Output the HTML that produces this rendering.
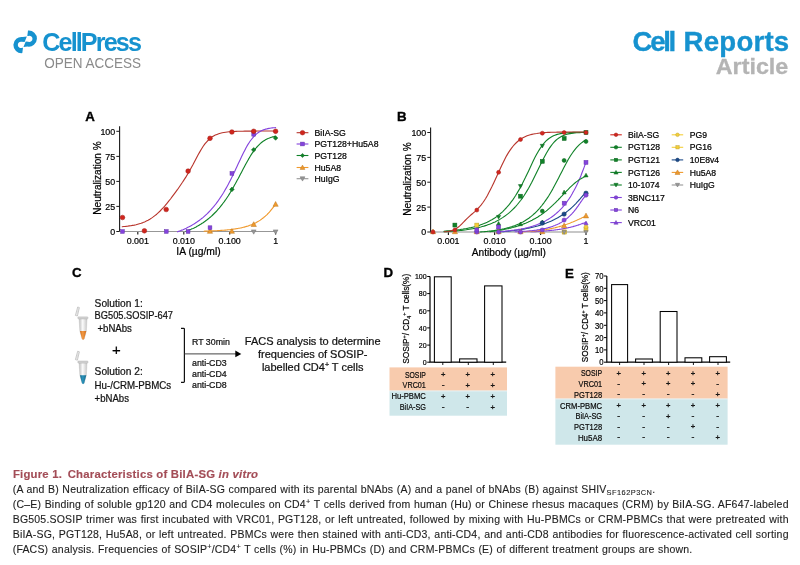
<!DOCTYPE html>
<html lang="en">
<head>
<meta charset="utf-8">
<title>Figure 1. Characteristics of BiIA-SG in vitro</title>
<style>
html,body{margin:0;padding:0;background:#fff;}
body{width:800px;height:565px;position:relative;overflow:hidden;font-family:"Liberation Sans", sans-serif;}
#fig{position:absolute;left:0;top:0;width:800px;height:565px;overflow:hidden;filter:blur(0.4px);}
svg{position:absolute;left:0;top:0;display:block;}
svg text{font-family:"Liberation Sans", sans-serif;}
svg text.k{stroke:#000;stroke-width:0.22px;}
svg text.kb{stroke:#000;stroke-width:0.35px;}
svg text.kp{stroke:#111;stroke-width:0.3px;}
.cap{position:absolute;left:12.7px;width:776px;color:#1e1e1e;-webkit-text-stroke:0.12px #1e1e1e;font-size:10.5px;line-height:14.7px;letter-spacing:0.2px;white-space:nowrap;text-align:justify;text-align-last:justify;}
.ttl{position:absolute;left:12.9px;top:466.8px;font-size:11.35px;line-height:15px;font-weight:bold;color:#a34d57;-webkit-text-stroke:0.15px #a34d57;white-space:nowrap;letter-spacing:0.22px;}
sub,sup{font-size:7.4px;line-height:0;letter-spacing:0.1px;}
sub{letter-spacing:0.48px;}
sup{vertical-align:3.6px;} sub{vertical-align:-2px;}
</style>
</head>
<body>
<div id="fig">
<svg width="800" height="565" viewBox="0 0 800 565">
<defs>
<linearGradient id="gb" x1="0" x2="1" y1="0" y2="0"><stop offset="0" stop-color="#bdbdbd"/><stop offset="0.45" stop-color="#fbfbfb"/><stop offset="1" stop-color="#c6c6c6"/></linearGradient>
<linearGradient id="go" x1="0" x2="1" y1="0" y2="0"><stop offset="0" stop-color="#d06f1c"/><stop offset="0.45" stop-color="#f39a45"/><stop offset="1" stop-color="#cf6d1a"/></linearGradient>
<linearGradient id="gl" x1="0" x2="1" y1="0" y2="0"><stop offset="0" stop-color="#146a8e"/><stop offset="0.45" stop-color="#2b93bb"/><stop offset="1" stop-color="#14688b"/></linearGradient>
</defs>
<path d="M28.0 30.5 A8.1 8.1 0 1 1 27.5 46.55 L23.45 47.0 L25.7 41.5 L28.4 41.75 A3.1 3.1 0 1 0 28.2 35.95 L27.3 35.9Z" fill="#1692cf"/>
<path d="M28.0 30.5 A8.1 8.1 0 1 1 27.5 46.55 L23.45 47.0 L25.7 41.5 L28.4 41.75 A3.1 3.1 0 1 0 28.2 35.95 L27.3 35.9Z" fill="#1692cf" transform="rotate(180 25.15 41.8)"/>
<text x="42.3" y="50.8" font-size="25.2" font-weight="bold" fill="#1692cf" textLength="99.6" lengthAdjust="spacing">CellPress</text>
<text x="44.2" y="68.2" font-size="14" fill="#8a8a8a" textLength="96.8" lengthAdjust="spacingAndGlyphs">OPEN ACCESS</text>
<text y="50.8" font-size="27.6" font-weight="bold" fill="#1692cf" stroke="#1692cf" stroke-width="0.35"><tspan x="632.6" textLength="43.6" lengthAdjust="spacing">Cell</tspan> <tspan x="683.6" textLength="105.6" lengthAdjust="spacing">Reports</tspan></text>
<text x="715.8" y="74.0" font-size="21.4" font-weight="bold" fill="#b4b4b4" stroke="#b4b4b4" stroke-width="0.3" textLength="72.5" lengthAdjust="spacingAndGlyphs">Article</text>
<path d="M119.6 126.3 V231.5 H276.2" fill="none" stroke="#1a1a1a" stroke-width="1.1"/>
<path d="M116.3 231.5 H119.6" stroke="#1a1a1a" stroke-width="1"/>
<text transform="translate(115.19999999999999 234.9) scale(0.915 1)" font-size="9.7" text-anchor="end" font-weight="normal" fill="#000" class="k">0</text>
<path d="M116.3 206.4 H119.6" stroke="#1a1a1a" stroke-width="1"/>
<text transform="translate(115.19999999999999 209.8) scale(0.915 1)" font-size="9.7" text-anchor="end" font-weight="normal" fill="#000" class="k">25</text>
<path d="M116.3 181.4 H119.6" stroke="#1a1a1a" stroke-width="1"/>
<text transform="translate(115.19999999999999 184.8) scale(0.915 1)" font-size="9.7" text-anchor="end" font-weight="normal" fill="#000" class="k">50</text>
<path d="M116.3 156.4 H119.6" stroke="#1a1a1a" stroke-width="1"/>
<text transform="translate(115.19999999999999 159.8) scale(0.915 1)" font-size="9.7" text-anchor="end" font-weight="normal" fill="#000" class="k">75</text>
<path d="M116.3 131.3 H119.6" stroke="#1a1a1a" stroke-width="1"/>
<text transform="translate(115.19999999999999 134.7) scale(0.915 1)" font-size="9.7" text-anchor="end" font-weight="normal" fill="#000" class="k">100</text>
<path d="M137.8 231.5 V234.6" stroke="#1a1a1a" stroke-width="1.15"/>
<text transform="translate(137.8 243.9) scale(0.915 1)" font-size="9.7" text-anchor="middle" font-weight="normal" fill="#000" class="k">0.001</text>
<path d="M183.8 231.5 V234.6" stroke="#1a1a1a" stroke-width="1.15"/>
<text transform="translate(183.8 243.9) scale(0.915 1)" font-size="9.7" text-anchor="middle" font-weight="normal" fill="#000" class="k">0.010</text>
<path d="M229.7 231.5 V234.6" stroke="#1a1a1a" stroke-width="1.15"/>
<text transform="translate(229.7 243.9) scale(0.915 1)" font-size="9.7" text-anchor="middle" font-weight="normal" fill="#000" class="k">0.100</text>
<path d="M275.6 231.5 V234.6" stroke="#1a1a1a" stroke-width="1.15"/>
<text transform="translate(275.6 243.9) scale(0.915 1)" font-size="9.7" text-anchor="middle" font-weight="normal" fill="#000" class="k">1</text>
<text x="198.5" y="254.6" font-size="10.3" text-anchor="middle" font-weight="normal" fill="#000" class="k">IA (µg/ml)</text>
<text transform="translate(100.8 178) rotate(-90)" font-size="10.6" text-anchor="middle" fill="#000" textLength="73.5" lengthAdjust="spacingAndGlyphs" class="k">Neutralization %</text>
<path d="M119.6 231.5 H275.6" stroke="#979797" stroke-width="1.1"/>
<path d="M122.2 226.7 L123.9 226.5 L125.6 226.4 L127.4 226.2 L129.1 225.9 L130.8 225.7 L132.5 225.4 L134.3 225.1 L136.0 224.7 L137.7 224.2 L139.4 223.7 L141.2 223.2 L142.9 222.6 L144.6 221.9 L146.3 221.1 L148.1 220.2 L149.8 219.2 L151.5 218.1 L153.2 216.9 L154.9 215.6 L156.7 214.2 L158.4 212.6 L160.1 211.0 L161.8 209.2 L163.6 207.3 L165.3 205.4 L167.0 203.3 L168.7 201.2 L170.5 199.0 L172.2 196.7 L173.9 194.4 L175.6 192.1 L177.4 189.7 L179.1 187.3 L180.8 184.8 L182.5 182.3 L184.2 179.6 L186.0 176.9 L187.7 174.0 L189.4 171.1 L191.1 168.0 L192.9 164.8 L194.6 161.5 L196.3 158.2 L198.0 155.0 L199.8 151.9 L201.5 149.0 L203.2 146.3 L204.9 143.9 L206.7 141.8 L208.4 140.0 L210.1 138.4 L211.8 137.1 L213.6 136.0 L215.3 135.1 L217.0 134.4 L218.7 133.7 L220.4 133.2 L222.2 132.8 L223.9 132.5 L225.6 132.2 L227.3 132.0 L229.1 131.8 L230.8 131.7 L232.5 131.6 L234.2 131.5 L236.0 131.4 L237.7 131.3 L239.4 131.3 L241.1 131.2 L242.9 131.2 L244.6 131.1 L246.3 131.1 L248.0 131.1 L249.7 131.1 L251.5 131.1 L253.2 131.1 L254.9 131.0 L256.6 131.0 L258.4 131.0 L260.1 131.0 L261.8 131.0 L263.5 131.0 L265.3 131.0 L267.0 131.0 L268.7 131.0 L270.4 131.0 L272.2 131.0 L273.9 131.0 L275.6 131.0" fill="none" stroke="#b8352c" stroke-width="1.12" stroke-linejoin="round" stroke-linecap="round"/>
<path d="M177.5 231.8 L178.6 231.4 L179.7 231.0 L180.8 230.6 L181.9 230.1 L183.0 229.7 L184.1 229.2 L185.2 228.7 L186.3 228.2 L187.4 227.6 L188.5 227.1 L189.6 226.5 L190.7 225.9 L191.8 225.3 L192.9 224.6 L194.0 224.0 L195.1 223.3 L196.2 222.5 L197.3 221.8 L198.4 221.0 L199.5 220.2 L200.6 219.4 L201.7 218.5 L202.9 217.6 L204.0 216.6 L205.1 215.6 L206.2 214.6 L207.3 213.6 L208.4 212.5 L209.5 211.3 L210.6 210.2 L211.7 208.9 L212.8 207.7 L213.9 206.4 L215.0 205.0 L216.1 203.6 L217.2 202.1 L218.3 200.6 L219.4 199.0 L220.5 197.4 L221.6 195.7 L222.7 194.0 L223.8 192.2 L224.9 190.3 L226.0 188.4 L227.1 186.4 L228.2 184.4 L229.3 182.3 L230.4 180.2 L231.5 178.0 L232.6 175.8 L233.7 173.5 L234.8 171.2 L235.9 168.8 L237.0 166.5 L238.1 164.1 L239.2 161.8 L240.3 159.4 L241.4 157.1 L242.5 154.8 L243.6 152.6 L244.7 150.4 L245.8 148.3 L246.9 146.3 L248.0 144.4 L249.1 142.7 L250.2 141.0 L251.4 139.5 L252.5 138.1 L253.6 136.8 L254.7 135.6 L255.8 134.6 L256.9 133.6 L258.0 132.8 L259.1 132.0 L260.2 131.4 L261.3 130.8 L262.4 130.3 L263.5 129.9 L264.6 129.5 L265.7 129.1 L266.8 128.9 L267.9 128.6 L269.0 128.4 L270.1 128.2 L271.2 128.0 L272.3 127.9 L273.4 127.8 L274.5 127.7 L275.6 127.6" fill="none" stroke="#8443dd" stroke-width="1.12" stroke-linejoin="round" stroke-linecap="round"/>
<path d="M186.0 231.3 L187.0 230.9 L188.0 230.5 L189.0 230.1 L190.0 229.7 L191.0 229.3 L192.0 228.8 L193.0 228.4 L194.1 227.9 L195.1 227.4 L196.1 226.9 L197.1 226.3 L198.1 225.8 L199.1 225.2 L200.1 224.6 L201.1 224.0 L202.1 223.3 L203.1 222.7 L204.1 222.0 L205.1 221.3 L206.1 220.5 L207.1 219.8 L208.1 219.0 L209.2 218.1 L210.2 217.3 L211.2 216.4 L212.2 215.5 L213.2 214.5 L214.2 213.5 L215.2 212.5 L216.2 211.5 L217.2 210.4 L218.2 209.2 L219.2 208.1 L220.2 206.9 L221.2 205.6 L222.2 204.3 L223.2 203.0 L224.3 201.6 L225.3 200.2 L226.3 198.7 L227.3 197.2 L228.3 195.7 L229.3 194.1 L230.3 192.5 L231.3 190.8 L232.3 189.1 L233.3 187.4 L234.3 185.6 L235.3 183.8 L236.3 181.9 L237.3 180.1 L238.4 178.2 L239.4 176.3 L240.4 174.3 L241.4 172.4 L242.4 170.5 L243.4 168.6 L244.4 166.7 L245.4 164.8 L246.4 163.0 L247.4 161.2 L248.4 159.4 L249.4 157.7 L250.4 156.0 L251.4 154.4 L252.4 152.9 L253.5 151.4 L254.5 150.0 L255.5 148.7 L256.5 147.5 L257.5 146.4 L258.5 145.3 L259.5 144.3 L260.5 143.4 L261.5 142.5 L262.5 141.7 L263.5 141.0 L264.5 140.4 L265.5 139.8 L266.5 139.2 L267.5 138.7 L268.6 138.3 L269.6 137.9 L270.6 137.5 L271.6 137.2 L272.6 136.9 L273.6 136.7 L274.6 136.4 L275.6 136.2" fill="none" stroke="#108228" stroke-width="1.12" stroke-linejoin="round" stroke-linecap="round"/>
<path d="M204.0 231.2 L204.8 231.1 L205.6 231.1 L206.4 231.1 L207.2 231.1 L208.0 231.1 L208.8 231.0 L209.6 231.0 L210.4 231.0 L211.2 230.9 L212.0 230.9 L212.8 230.9 L213.7 230.8 L214.5 230.8 L215.3 230.8 L216.1 230.7 L216.9 230.7 L217.7 230.6 L218.5 230.6 L219.3 230.5 L220.1 230.5 L220.9 230.4 L221.7 230.4 L222.5 230.3 L223.3 230.3 L224.1 230.2 L224.9 230.1 L225.7 230.1 L226.5 230.0 L227.3 229.9 L228.1 229.8 L228.9 229.7 L229.7 229.7 L230.5 229.6 L231.4 229.5 L232.2 229.4 L233.0 229.3 L233.8 229.1 L234.6 229.0 L235.4 228.9 L236.2 228.8 L237.0 228.6 L237.8 228.5 L238.6 228.3 L239.4 228.2 L240.2 228.0 L241.0 227.9 L241.8 227.7 L242.6 227.5 L243.4 227.3 L244.2 227.1 L245.0 226.9 L245.8 226.6 L246.6 226.4 L247.4 226.2 L248.2 225.9 L249.1 225.6 L249.9 225.3 L250.7 225.0 L251.5 224.7 L252.3 224.4 L253.1 224.0 L253.9 223.7 L254.7 223.3 L255.5 222.9 L256.3 222.5 L257.1 222.0 L257.9 221.6 L258.7 221.1 L259.5 220.6 L260.3 220.1 L261.1 219.5 L261.9 218.9 L262.7 218.3 L263.5 217.7 L264.3 217.0 L265.1 216.3 L265.9 215.6 L266.8 214.8 L267.6 214.0 L268.4 213.2 L269.2 212.3 L270.0 211.4 L270.8 210.4 L271.6 209.4 L272.4 208.4 L273.2 207.3 L274.0 206.3 L274.8 205.3 L275.6 204.4" fill="none" stroke="#f09a2e" stroke-width="1.12" stroke-linejoin="round" stroke-linecap="round"/>
<path d="M253.7 234.2 L256.1 229.9 L251.3 229.9Z" fill="#979797" stroke="#757575" stroke-width="0.5"/>
<path d="M275.6 234.2 L278.0 229.9 L273.2 229.9Z" fill="#979797" stroke="#757575" stroke-width="0.5"/>
<path d="M210.0 228.6 L212.6 233.3 L207.3 233.3Z" fill="#f09a2e" stroke="#bb7823" stroke-width="0.5"/>
<path d="M231.9 228.6 L234.5 233.3 L229.2 233.3Z" fill="#f09a2e" stroke="#bb7823" stroke-width="0.5"/>
<path d="M253.7 221.7 L256.4 226.5 L251.1 226.5Z" fill="#f09a2e" stroke="#bb7823" stroke-width="0.5"/>
<path d="M275.6 201.5 L278.2 206.3 L273.0 206.3Z" fill="#f09a2e" stroke="#bb7823" stroke-width="0.5"/>
<path d="M231.9 187.1 L234.2 189.4 L231.9 191.7 L229.6 189.4Z" fill="#108228" stroke="#0c651f" stroke-width="0.5"/>
<path d="M253.7 147.5 L256.0 149.8 L253.7 152.1 L251.4 149.8Z" fill="#108228" stroke="#0c651f" stroke-width="0.5"/>
<path d="M275.6 135.7 L277.9 138.0 L275.6 140.3 L273.3 138.0Z" fill="#108228" stroke="#0c651f" stroke-width="0.5"/>
<rect x="120.6" y="229.6" width="3.78" height="3.78" fill="#8443dd" stroke="#6634ac" stroke-width="0.5"/>
<rect x="164.4" y="229.6" width="3.78" height="3.78" fill="#8443dd" stroke="#6634ac" stroke-width="0.5"/>
<rect x="186.2" y="229.6" width="3.78" height="3.78" fill="#8443dd" stroke="#6634ac" stroke-width="0.5"/>
<rect x="208.1" y="225.8" width="3.78" height="3.78" fill="#8443dd" stroke="#6634ac" stroke-width="0.5"/>
<rect x="230.0" y="171.5" width="3.78" height="3.78" fill="#8443dd" stroke="#6634ac" stroke-width="0.5"/>
<rect x="251.8" y="132.4" width="3.78" height="3.78" fill="#8443dd" stroke="#6634ac" stroke-width="0.5"/>
<circle cx="275.6" cy="131.3" r="2.35" fill="#d0251d" stroke="#a21c16" stroke-width="0.5"/>
<circle cx="253.7" cy="131.3" r="2.35" fill="#d0251d" stroke="#a21c16" stroke-width="0.5"/>
<circle cx="231.9" cy="132.0" r="2.35" fill="#d0251d" stroke="#a21c16" stroke-width="0.5"/>
<circle cx="210.0" cy="138.3" r="2.35" fill="#d0251d" stroke="#a21c16" stroke-width="0.5"/>
<circle cx="188.1" cy="171.1" r="2.35" fill="#d0251d" stroke="#a21c16" stroke-width="0.5"/>
<circle cx="166.2" cy="209.5" r="2.35" fill="#d0251d" stroke="#a21c16" stroke-width="0.5"/>
<circle cx="144.4" cy="230.8" r="2.35" fill="#d0251d" stroke="#a21c16" stroke-width="0.5"/>
<circle cx="122.5" cy="217.5" r="2.35" fill="#d0251d" stroke="#a21c16" stroke-width="0.5"/>
<path d="M296.6 132.7 H308.4" stroke="#b8352c" stroke-width="1.1"/>
<circle cx="302.5" cy="132.7" r="2.30" fill="#d0251d" stroke="#a21c16" stroke-width="0.5"/>
<text x="314.5" y="135.8" font-size="8.7" text-anchor="start" font-weight="normal" fill="#000" class="k">BiIA-SG</text>
<path d="M296.6 144.0 H308.4" stroke="#8443dd" stroke-width="1.1"/>
<rect x="300.6" y="142.1" width="3.78" height="3.78" fill="#8443dd" stroke="#6634ac" stroke-width="0.5"/>
<text x="314.5" y="147.1" font-size="8.7" text-anchor="start" font-weight="normal" fill="#000" class="k">PGT128+Hu5A8</text>
<path d="M296.6 155.5 H308.4" stroke="#108228" stroke-width="1.1"/>
<path d="M302.5 153.4 L304.6 155.5 L302.5 157.6 L300.4 155.5Z" fill="#108228" stroke="#0c651f" stroke-width="0.5"/>
<text x="314.5" y="158.6" font-size="8.7" text-anchor="start" font-weight="normal" fill="#000" class="k">PGT128</text>
<path d="M296.6 167.5 H308.4" stroke="#f09a2e" stroke-width="1.1"/>
<path d="M302.5 165.1 L304.9 169.4 L300.1 169.4Z" fill="#f09a2e" stroke="#bb7823" stroke-width="0.5"/>
<text x="314.5" y="170.6" font-size="8.7" text-anchor="start" font-weight="normal" fill="#000" class="k">Hu5A8</text>
<path d="M296.6 178.7 H308.4" stroke="#979797" stroke-width="1.1"/>
<path d="M302.5 181.1 L304.9 176.8 L300.1 176.8Z" fill="#979797" stroke="#757575" stroke-width="0.5"/>
<text x="314.5" y="181.8" font-size="8.7" text-anchor="start" font-weight="normal" fill="#000" class="k">HuIgG</text>
<text x="85.2" y="121.1" font-size="13.3" text-anchor="start" font-weight="bold" fill="#000" class="kb">A</text>
<path d="M430.6 127.5 V232.5" fill="none" stroke="#1a1a1a" stroke-width="1.1"/>
<path d="M427.3 232.0 H430.6" stroke="#1a1a1a" stroke-width="1"/>
<text transform="translate(426.20000000000005 235.4) scale(0.915 1)" font-size="9.7" text-anchor="end" font-weight="normal" fill="#000" class="k">0</text>
<path d="M427.3 207.1 H430.6" stroke="#1a1a1a" stroke-width="1"/>
<text transform="translate(426.20000000000005 210.5) scale(0.915 1)" font-size="9.7" text-anchor="end" font-weight="normal" fill="#000" class="k">25</text>
<path d="M427.3 182.2 H430.6" stroke="#1a1a1a" stroke-width="1"/>
<text transform="translate(426.20000000000005 185.7) scale(0.915 1)" font-size="9.7" text-anchor="end" font-weight="normal" fill="#000" class="k">50</text>
<path d="M427.3 157.4 H430.6" stroke="#1a1a1a" stroke-width="1"/>
<text transform="translate(426.20000000000005 160.8) scale(0.915 1)" font-size="9.7" text-anchor="end" font-weight="normal" fill="#000" class="k">75</text>
<path d="M427.3 132.5 H430.6" stroke="#1a1a1a" stroke-width="1"/>
<text transform="translate(426.20000000000005 135.9) scale(0.915 1)" font-size="9.7" text-anchor="end" font-weight="normal" fill="#000" class="k">100</text>
<path d="M448.4 232.0 V235.1" stroke="#1a1a1a" stroke-width="1.15"/>
<text transform="translate(448.4 244.4) scale(0.915 1)" font-size="9.7" text-anchor="middle" font-weight="normal" fill="#000" class="k">0.001</text>
<path d="M494.6 232.0 V235.1" stroke="#1a1a1a" stroke-width="1.15"/>
<text transform="translate(494.6 244.4) scale(0.915 1)" font-size="9.7" text-anchor="middle" font-weight="normal" fill="#000" class="k">0.010</text>
<path d="M540.6 232.0 V235.1" stroke="#1a1a1a" stroke-width="1.15"/>
<text transform="translate(540.6 244.4) scale(0.915 1)" font-size="9.7" text-anchor="middle" font-weight="normal" fill="#000" class="k">0.100</text>
<path d="M586.0 232.0 V235.1" stroke="#1a1a1a" stroke-width="1.15"/>
<text transform="translate(586.0 244.4) scale(0.915 1)" font-size="9.7" text-anchor="middle" font-weight="normal" fill="#000" class="k">1</text>
<text x="508.8" y="255.7" font-size="10.15" text-anchor="middle" font-weight="normal" fill="#000" class="k">Antibody (µg/ml)</text>
<text transform="translate(411.3 179) rotate(-90)" font-size="10.6" text-anchor="middle" fill="#000" textLength="73.5" lengthAdjust="spacingAndGlyphs" class="k">Neutralization %</text>
<path d="M430.6 232.0 H586.6" stroke="#8f8f8f" stroke-width="1.2"/>
<path d="M531.0 231.8 L531.6 231.8 L532.2 231.7 L532.9 231.7 L533.5 231.7 L534.1 231.7 L534.7 231.6 L535.3 231.6 L535.9 231.6 L536.6 231.5 L537.2 231.5 L537.8 231.5 L538.4 231.4 L539.0 231.4 L539.7 231.3 L540.3 231.3 L540.9 231.3 L541.5 231.2 L542.1 231.2 L542.7 231.1 L543.4 231.1 L544.0 231.0 L544.6 231.0 L545.2 231.0 L545.8 230.9 L546.4 230.9 L547.1 230.8 L547.7 230.7 L548.3 230.7 L548.9 230.6 L549.5 230.6 L550.2 230.5 L550.8 230.4 L551.4 230.4 L552.0 230.3 L552.6 230.2 L553.2 230.2 L553.9 230.1 L554.5 230.0 L555.1 230.0 L555.7 229.9 L556.3 229.8 L557.0 229.7 L557.6 229.6 L558.2 229.5 L558.8 229.5 L559.4 229.4 L560.0 229.3 L560.7 229.2 L561.3 229.1 L561.9 229.0 L562.5 228.9 L563.1 228.8 L563.8 228.6 L564.4 228.5 L565.0 228.4 L565.6 228.3 L566.2 228.2 L566.8 228.0 L567.5 227.9 L568.1 227.8 L568.7 227.6 L569.3 227.5 L569.9 227.4 L570.6 227.2 L571.2 227.0 L571.8 226.9 L572.4 226.7 L573.0 226.6 L573.6 226.4 L574.3 226.2 L574.9 226.0 L575.5 225.9 L576.1 225.7 L576.7 225.5 L577.3 225.3 L578.0 225.1 L578.6 224.9 L579.2 224.7 L579.8 224.5 L580.4 224.2 L581.1 224.0 L581.7 223.8 L582.3 223.6 L582.9 223.4 L583.5 223.2 L584.1 223.0 L584.8 222.8 L585.4 222.7 L586.0 222.5" fill="none" stroke="#8443dd" stroke-width="1.12" stroke-linejoin="round" stroke-linecap="round"/>
<path d="M520.0 231.8 L520.7 231.8 L521.5 231.7 L522.2 231.7 L523.0 231.7 L523.7 231.6 L524.4 231.6 L525.2 231.6 L525.9 231.5 L526.7 231.5 L527.4 231.5 L528.2 231.4 L528.9 231.4 L529.6 231.3 L530.4 231.3 L531.1 231.2 L531.9 231.2 L532.6 231.1 L533.3 231.1 L534.1 231.0 L534.8 230.9 L535.6 230.9 L536.3 230.8 L537.1 230.7 L537.8 230.7 L538.5 230.6 L539.3 230.5 L540.0 230.4 L540.8 230.3 L541.5 230.2 L542.2 230.1 L543.0 230.0 L543.7 229.9 L544.5 229.8 L545.2 229.7 L546.0 229.6 L546.7 229.4 L547.4 229.3 L548.2 229.2 L548.9 229.1 L549.7 228.9 L550.4 228.8 L551.1 228.6 L551.9 228.5 L552.6 228.3 L553.4 228.1 L554.1 228.0 L554.9 227.8 L555.6 227.6 L556.3 227.4 L557.1 227.2 L557.8 227.0 L558.6 226.8 L559.3 226.6 L560.0 226.4 L560.8 226.2 L561.5 226.0 L562.3 225.8 L563.0 225.5 L563.8 225.3 L564.5 225.0 L565.2 224.8 L566.0 224.5 L566.7 224.3 L567.5 224.0 L568.2 223.7 L568.9 223.5 L569.7 223.2 L570.4 222.9 L571.2 222.6 L571.9 222.3 L572.7 222.0 L573.4 221.7 L574.1 221.4 L574.9 221.1 L575.6 220.7 L576.4 220.4 L577.1 220.1 L577.8 219.7 L578.6 219.4 L579.3 219.1 L580.1 218.7 L580.8 218.4 L581.6 218.0 L582.3 217.6 L583.0 217.3 L583.8 216.9 L584.5 216.5 L585.3 216.2 L586.0 215.8" fill="none" stroke="#f09a2e" stroke-width="1.12" stroke-linejoin="round" stroke-linecap="round"/>
<path d="M515.0 231.8 L515.8 231.8 L516.6 231.7 L517.4 231.7 L518.2 231.7 L519.0 231.6 L519.8 231.6 L520.6 231.5 L521.4 231.5 L522.2 231.4 L523.0 231.4 L523.8 231.3 L524.6 231.3 L525.4 231.2 L526.2 231.2 L527.0 231.1 L527.8 231.0 L528.6 231.0 L529.4 230.9 L530.2 230.8 L531.0 230.7 L531.8 230.7 L532.6 230.6 L533.3 230.5 L534.1 230.4 L534.9 230.3 L535.7 230.2 L536.5 230.1 L537.3 229.9 L538.1 229.8 L538.9 229.7 L539.7 229.6 L540.5 229.4 L541.3 229.3 L542.1 229.1 L542.9 229.0 L543.7 228.8 L544.5 228.6 L545.3 228.5 L546.1 228.3 L546.9 228.1 L547.7 227.9 L548.5 227.6 L549.3 227.4 L550.1 227.2 L550.9 226.9 L551.7 226.7 L552.5 226.4 L553.3 226.1 L554.1 225.8 L554.9 225.5 L555.7 225.1 L556.5 224.8 L557.3 224.4 L558.1 224.1 L558.9 223.7 L559.7 223.2 L560.5 222.8 L561.3 222.4 L562.1 221.9 L562.9 221.4 L563.7 220.9 L564.5 220.3 L565.3 219.7 L566.1 219.1 L566.9 218.5 L567.7 217.8 L568.4 217.2 L569.2 216.4 L570.0 215.7 L570.8 214.9 L571.6 214.1 L572.4 213.2 L573.2 212.3 L574.0 211.4 L574.8 210.4 L575.6 209.4 L576.4 208.3 L577.2 207.2 L578.0 206.1 L578.8 204.9 L579.6 203.8 L580.4 202.6 L581.2 201.4 L582.0 200.3 L582.8 199.1 L583.6 198.1 L584.4 197.2 L585.2 196.3 L586.0 195.6" fill="none" stroke="#8443dd" stroke-width="1.12" stroke-linejoin="round" stroke-linecap="round"/>
<path d="M498.0 231.8 L499.0 231.8 L500.0 231.8 L501.0 231.8 L502.0 231.8 L502.9 231.7 L503.9 231.6 L504.9 231.5 L505.9 231.4 L506.9 231.3 L507.9 231.2 L508.9 231.1 L509.9 231.0 L510.9 230.9 L511.8 230.8 L512.8 230.7 L513.8 230.6 L514.8 230.4 L515.8 230.3 L516.8 230.2 L517.8 230.0 L518.8 229.9 L519.8 229.7 L520.7 229.6 L521.7 229.4 L522.7 229.3 L523.7 229.1 L524.7 228.9 L525.7 228.7 L526.7 228.5 L527.7 228.3 L528.7 228.1 L529.6 227.9 L530.6 227.7 L531.6 227.5 L532.6 227.3 L533.6 227.0 L534.6 226.8 L535.6 226.5 L536.6 226.2 L537.6 226.0 L538.5 225.7 L539.5 225.4 L540.5 225.1 L541.5 224.8 L542.5 224.4 L543.5 224.1 L544.5 223.8 L545.5 223.4 L546.4 223.0 L547.4 222.6 L548.4 222.2 L549.4 221.8 L550.4 221.4 L551.4 221.0 L552.4 220.5 L553.4 220.0 L554.4 219.5 L555.3 219.0 L556.3 218.5 L557.3 218.0 L558.3 217.4 L559.3 216.8 L560.3 216.2 L561.3 215.6 L562.3 215.0 L563.3 214.3 L564.2 213.6 L565.2 212.9 L566.2 212.2 L567.2 211.4 L568.2 210.6 L569.2 209.8 L570.2 209.0 L571.2 208.1 L572.2 207.2 L573.1 206.3 L574.1 205.3 L575.1 204.3 L576.1 203.3 L577.1 202.2 L578.1 201.1 L579.1 200.0 L580.1 198.9 L581.1 197.7 L582.0 196.6 L583.0 195.5 L584.0 194.5 L585.0 193.7 L586.0 193.0" fill="none" stroke="#1b4a88" stroke-width="1.12" stroke-linejoin="round" stroke-linecap="round"/>
<path d="M498.0 231.7 L499.0 231.7 L500.0 231.6 L501.0 231.5 L502.0 231.4 L502.9 231.4 L503.9 231.3 L504.9 231.2 L505.9 231.1 L506.9 231.0 L507.9 230.9 L508.9 230.8 L509.9 230.7 L510.9 230.5 L511.8 230.4 L512.8 230.3 L513.8 230.2 L514.8 230.0 L515.8 229.9 L516.8 229.7 L517.8 229.6 L518.8 229.4 L519.8 229.2 L520.7 229.1 L521.7 228.9 L522.7 228.7 L523.7 228.5 L524.7 228.3 L525.7 228.0 L526.7 227.8 L527.7 227.6 L528.7 227.3 L529.6 227.1 L530.6 226.8 L531.6 226.5 L532.6 226.2 L533.6 225.9 L534.6 225.6 L535.6 225.2 L536.6 224.9 L537.6 224.5 L538.5 224.1 L539.5 223.7 L540.5 223.3 L541.5 222.8 L542.5 222.4 L543.5 221.9 L544.5 221.4 L545.5 220.9 L546.4 220.3 L547.4 219.8 L548.4 219.2 L549.4 218.6 L550.4 217.9 L551.4 217.2 L552.4 216.5 L553.4 215.8 L554.4 215.0 L555.3 214.2 L556.3 213.4 L557.3 212.5 L558.3 211.6 L559.3 210.7 L560.3 209.7 L561.3 208.7 L562.3 207.6 L563.3 206.4 L564.2 205.3 L565.2 204.0 L566.2 202.8 L567.2 201.4 L568.2 200.0 L569.2 198.6 L570.2 197.1 L571.2 195.5 L572.2 193.8 L573.1 192.1 L574.1 190.3 L575.1 188.4 L576.1 186.4 L577.1 184.4 L578.1 182.3 L579.1 180.0 L580.1 177.7 L581.1 175.3 L582.0 172.8 L583.0 170.2 L584.0 167.6 L585.0 164.9 L586.0 162.3" fill="none" stroke="#8443dd" stroke-width="1.12" stroke-linejoin="round" stroke-linecap="round"/>
<path d="M490.0 231.7 L491.1 231.5 L492.2 231.4 L493.2 231.2 L494.3 231.1 L495.4 230.9 L496.5 230.8 L497.6 230.6 L498.6 230.4 L499.7 230.3 L500.8 230.1 L501.9 229.9 L502.9 229.7 L504.0 229.5 L505.1 229.3 L506.2 229.0 L507.3 228.8 L508.3 228.6 L509.4 228.3 L510.5 228.1 L511.6 227.8 L512.7 227.5 L513.7 227.2 L514.8 226.9 L515.9 226.6 L517.0 226.3 L518.0 225.9 L519.1 225.6 L520.2 225.2 L521.3 224.8 L522.4 224.5 L523.4 224.0 L524.5 223.6 L525.6 223.2 L526.7 222.7 L527.8 222.3 L528.8 221.8 L529.9 221.3 L531.0 220.7 L532.1 220.2 L533.1 219.6 L534.2 219.0 L535.3 218.4 L536.4 217.8 L537.5 217.2 L538.5 216.5 L539.6 215.8 L540.7 215.1 L541.8 214.3 L542.9 213.5 L543.9 212.7 L545.0 211.9 L546.1 211.1 L547.2 210.2 L548.2 209.3 L549.3 208.4 L550.4 207.4 L551.5 206.4 L552.6 205.4 L553.6 204.4 L554.7 203.4 L555.8 202.3 L556.9 201.2 L558.0 200.1 L559.0 199.0 L560.1 197.9 L561.2 196.7 L562.3 195.6 L563.3 194.4 L564.4 193.3 L565.5 192.1 L566.6 191.0 L567.7 189.9 L568.7 188.8 L569.8 187.7 L570.9 186.6 L572.0 185.6 L573.1 184.6 L574.1 183.7 L575.2 182.8 L576.3 181.9 L577.4 181.1 L578.4 180.3 L579.5 179.6 L580.6 178.9 L581.7 178.3 L582.8 177.7 L583.8 177.1 L584.9 176.6 L586.0 176.2" fill="none" stroke="#108228" stroke-width="1.12" stroke-linejoin="round" stroke-linecap="round"/>
<path d="M480.0 232.0 L481.2 231.9 L482.4 231.8 L483.6 231.7 L484.8 231.6 L486.0 231.5 L487.1 231.4 L488.3 231.2 L489.5 231.1 L490.7 231.0 L491.9 230.8 L493.1 230.7 L494.3 230.5 L495.5 230.3 L496.7 230.1 L497.9 229.9 L499.1 229.7 L500.2 229.5 L501.4 229.3 L502.6 229.0 L503.8 228.8 L505.0 228.5 L506.2 228.2 L507.4 227.9 L508.6 227.6 L509.8 227.2 L511.0 226.9 L512.2 226.5 L513.3 226.1 L514.5 225.7 L515.7 225.2 L516.9 224.7 L518.1 224.2 L519.3 223.7 L520.5 223.1 L521.7 222.5 L522.9 221.9 L524.1 221.2 L525.3 220.5 L526.4 219.8 L527.6 219.0 L528.8 218.2 L530.0 217.3 L531.2 216.4 L532.4 215.4 L533.6 214.3 L534.8 213.3 L536.0 212.1 L537.2 210.9 L538.4 209.6 L539.6 208.3 L540.7 206.9 L541.9 205.5 L543.1 203.9 L544.3 202.3 L545.5 200.6 L546.7 198.9 L547.9 197.1 L549.1 195.2 L550.3 193.2 L551.5 191.2 L552.7 189.1 L553.8 187.0 L555.0 184.8 L556.2 182.5 L557.4 180.2 L558.6 177.9 L559.8 175.6 L561.0 173.2 L562.2 170.9 L563.4 168.6 L564.6 166.3 L565.8 164.1 L566.9 161.9 L568.1 159.8 L569.3 157.8 L570.5 155.8 L571.7 154.0 L572.9 152.3 L574.1 150.6 L575.3 149.1 L576.5 147.7 L577.7 146.4 L578.9 145.2 L580.0 144.1 L581.2 143.1 L582.4 142.2 L583.6 141.3 L584.8 140.6 L586.0 139.9" fill="none" stroke="#108228" stroke-width="1.12" stroke-linejoin="round" stroke-linecap="round"/>
<path d="M444.0 231.8 L445.6 231.7 L447.2 231.6 L448.8 231.5 L450.4 231.4 L452.0 231.3 L453.6 231.1 L455.2 231.0 L456.8 230.9 L458.4 230.7 L460.0 230.5 L461.6 230.4 L463.1 230.2 L464.7 230.0 L466.3 229.8 L467.9 229.5 L469.5 229.3 L471.1 229.0 L472.7 228.7 L474.3 228.4 L475.9 228.1 L477.5 227.7 L479.1 227.4 L480.7 227.0 L482.3 226.5 L483.9 226.1 L485.5 225.6 L487.1 225.1 L488.7 224.5 L490.3 223.9 L491.9 223.3 L493.5 222.6 L495.1 221.9 L496.7 221.1 L498.2 220.3 L499.8 219.4 L501.4 218.4 L503.0 217.4 L504.6 216.3 L506.2 215.1 L507.8 213.9 L509.4 212.6 L511.0 211.2 L512.6 209.6 L514.2 208.0 L515.8 206.3 L517.4 204.5 L519.0 202.5 L520.6 200.5 L522.2 198.3 L523.8 196.0 L525.4 193.5 L527.0 190.9 L528.6 188.2 L530.2 185.3 L531.8 182.3 L533.3 179.3 L534.9 176.1 L536.5 172.8 L538.1 169.6 L539.7 166.3 L541.3 163.0 L542.9 159.8 L544.5 156.7 L546.1 153.7 L547.7 151.0 L549.3 148.4 L550.9 146.1 L552.5 144.0 L554.1 142.2 L555.7 140.5 L557.3 139.1 L558.9 138.0 L560.5 137.0 L562.1 136.1 L563.7 135.4 L565.3 134.8 L566.9 134.3 L568.4 133.9 L570.0 133.6 L571.6 133.4 L573.2 133.1 L574.8 133.0 L576.4 132.8 L578.0 132.7 L579.6 132.6 L581.2 132.5 L582.8 132.5 L584.4 132.4 L586.0 132.4" fill="none" stroke="#108228" stroke-width="1.12" stroke-linejoin="round" stroke-linecap="round"/>
<path d="M444.0 231.2 L445.6 231.0 L447.2 230.9 L448.8 230.8 L450.4 230.7 L452.0 230.5 L453.6 230.3 L455.2 230.2 L456.8 230.0 L458.4 229.8 L460.0 229.6 L461.6 229.3 L463.1 229.1 L464.7 228.8 L466.3 228.6 L467.9 228.2 L469.5 227.9 L471.1 227.6 L472.7 227.2 L474.3 226.8 L475.9 226.3 L477.5 225.9 L479.1 225.4 L480.7 224.8 L482.3 224.2 L483.9 223.6 L485.5 222.9 L487.1 222.2 L488.7 221.4 L490.3 220.6 L491.9 219.7 L493.5 218.7 L495.1 217.7 L496.7 216.6 L498.2 215.4 L499.8 214.1 L501.4 212.8 L503.0 211.3 L504.6 209.7 L506.2 208.0 L507.8 206.2 L509.4 204.3 L511.0 202.2 L512.6 200.1 L514.2 197.7 L515.8 195.3 L517.4 192.6 L519.0 189.9 L520.6 187.0 L522.2 184.0 L523.8 180.8 L525.4 177.6 L527.0 174.2 L528.6 170.9 L530.2 167.5 L531.8 164.1 L533.3 160.8 L534.9 157.6 L536.5 154.6 L538.1 151.7 L539.7 149.1 L541.3 146.7 L542.9 144.5 L544.5 142.6 L546.1 140.9 L547.7 139.5 L549.3 138.2 L550.9 137.2 L552.5 136.3 L554.1 135.5 L555.7 134.9 L557.3 134.4 L558.9 134.0 L560.5 133.6 L562.1 133.4 L563.7 133.1 L565.3 132.9 L566.9 132.8 L568.4 132.7 L570.0 132.6 L571.6 132.5 L573.2 132.4 L574.8 132.4 L576.4 132.3 L578.0 132.3 L579.6 132.2 L581.2 132.2 L582.8 132.2 L584.4 132.2 L586.0 132.2" fill="none" stroke="#108228" stroke-width="1.12" stroke-linejoin="round" stroke-linecap="round"/>
<path d="M444.4 231.8 L446.0 231.7 L447.6 231.5 L449.2 231.2 L450.8 230.9 L452.4 230.4 L453.9 229.8 L455.5 229.0 L457.1 228.0 L458.7 226.8 L460.3 225.4 L461.9 223.8 L463.5 222.2 L465.1 220.5 L466.7 218.9 L468.3 217.4 L469.9 215.9 L471.4 214.5 L473.0 213.2 L474.6 211.8 L476.2 210.3 L477.8 208.7 L479.4 207.0 L481.0 205.1 L482.6 203.0 L484.2 200.7 L485.8 198.3 L487.4 195.5 L488.9 192.6 L490.5 189.5 L492.1 186.3 L493.7 182.9 L495.3 179.4 L496.9 175.9 L498.5 172.4 L500.1 168.9 L501.7 165.4 L503.3 162.2 L504.9 159.0 L506.4 156.1 L508.0 153.4 L509.6 150.9 L511.2 148.6 L512.8 146.5 L514.4 144.6 L516.0 143.0 L517.6 141.5 L519.2 140.2 L520.8 139.1 L522.4 138.1 L524.0 137.2 L525.5 136.5 L527.1 135.8 L528.7 135.3 L530.3 134.8 L531.9 134.4 L533.5 134.0 L535.1 133.7 L536.7 133.5 L538.3 133.2 L539.9 133.0 L541.5 132.9 L543.0 132.7 L544.6 132.6 L546.2 132.5 L547.8 132.4 L549.4 132.4 L551.0 132.3 L552.6 132.3 L554.2 132.2 L555.8 132.2 L557.4 132.1 L559.0 132.1 L560.5 132.1 L562.1 132.1 L563.7 132.1 L565.3 132.0 L566.9 132.0 L568.5 132.0 L570.1 132.0 L571.7 132.0 L573.3 132.0 L574.9 132.0 L576.5 132.0 L578.0 132.0 L579.6 132.0 L581.2 132.0 L582.8 132.0 L584.4 132.0 L586.0 132.0" fill="none" stroke="#b8352c" stroke-width="1.12" stroke-linejoin="round" stroke-linecap="round"/>
<path d="M542.3 229.0 L544.9 233.7 L539.7 233.7Z" fill="#f09a2e" stroke="#bb7823" stroke-width="0.5"/>
<path d="M520.5 229.0 L523.1 233.7 L517.8 233.7Z" fill="#f09a2e" stroke="#bb7823" stroke-width="0.5"/>
<path d="M498.6 229.0 L501.2 233.7 L496.0 233.7Z" fill="#f09a2e" stroke="#bb7823" stroke-width="0.5"/>
<path d="M476.8 229.0 L479.4 233.7 L474.1 233.7Z" fill="#f09a2e" stroke="#bb7823" stroke-width="0.5"/>
<path d="M454.9 229.0 L457.5 233.7 L452.3 233.7Z" fill="#f09a2e" stroke="#bb7823" stroke-width="0.5"/>
<path d="M433.0 229.0 L435.7 233.7 L430.4 233.7Z" fill="#f09a2e" stroke="#bb7823" stroke-width="0.5"/>
<rect x="562.2" y="230.0" width="3.96" height="3.96" fill="#f4cf3a" stroke="#bea12d" stroke-width="0.5"/>
<rect x="562.2" y="230.0" width="3.96" height="3.96" fill="#f4cf3a" stroke="#bea12d" stroke-width="0.5"/>
<rect x="584.0" y="227.5" width="3.96" height="3.96" fill="#f4cf3a" stroke="#bea12d" stroke-width="0.5"/>
<rect x="474.8" y="223.1" width="3.96" height="3.96" fill="#f4cf3a" stroke="#bea12d" stroke-width="0.5"/>
<circle cx="586.0" cy="227.0" r="2.00" fill="#f4cf3a" stroke="#bea12d" stroke-width="0.5"/>
<path d="M564.1 234.4 L566.2 230.6 L562.1 230.6Z" fill="#979797" stroke="#757575" stroke-width="0.5"/>
<path d="M586.0 234.4 L588.1 230.6 L583.9 230.6Z" fill="#979797" stroke="#757575" stroke-width="0.5"/>
<path d="M564.1 223.1 L566.8 227.8 L561.5 227.8Z" fill="#f09a2e" stroke="#bb7823" stroke-width="0.5"/>
<path d="M586.0 213.1 L588.6 217.9 L583.4 217.9Z" fill="#f09a2e" stroke="#bb7823" stroke-width="0.5"/>
<path d="M586.0 221.0 L588.1 224.7 L583.9 224.7Z" fill="#8443dd" stroke="#6634ac" stroke-width="0.5"/>
<path d="M498.6 221.5 L500.7 225.2 L496.5 225.2Z" fill="#108228" stroke="#0c651f" stroke-width="0.5"/>
<path d="M520.5 222.0 L522.5 225.7 L518.4 225.7Z" fill="#108228" stroke="#0c651f" stroke-width="0.5"/>
<path d="M542.3 220.0 L544.4 223.7 L540.2 223.7Z" fill="#108228" stroke="#0c651f" stroke-width="0.5"/>
<path d="M564.1 190.1 L566.2 193.9 L562.1 193.9Z" fill="#108228" stroke="#0c651f" stroke-width="0.5"/>
<path d="M586.0 173.2 L588.1 176.9 L583.9 176.9Z" fill="#108228" stroke="#0c651f" stroke-width="0.5"/>
<circle cx="542.3" cy="223.0" r="2.20" fill="#1b4a88" stroke="#15396a" stroke-width="0.5"/>
<circle cx="564.1" cy="214.1" r="2.20" fill="#1b4a88" stroke="#15396a" stroke-width="0.5"/>
<circle cx="586.0" cy="193.2" r="2.20" fill="#1b4a88" stroke="#15396a" stroke-width="0.5"/>
<circle cx="476.8" cy="232.0" r="2.10" fill="#8443dd" stroke="#6634ac" stroke-width="0.5"/>
<circle cx="498.6" cy="232.0" r="2.10" fill="#8443dd" stroke="#6634ac" stroke-width="0.5"/>
<circle cx="520.5" cy="232.0" r="2.10" fill="#8443dd" stroke="#6634ac" stroke-width="0.5"/>
<circle cx="542.3" cy="230.0" r="2.10" fill="#8443dd" stroke="#6634ac" stroke-width="0.5"/>
<circle cx="564.1" cy="220.1" r="2.10" fill="#8443dd" stroke="#6634ac" stroke-width="0.5"/>
<circle cx="586.0" cy="195.2" r="2.10" fill="#8443dd" stroke="#6634ac" stroke-width="0.5"/>
<rect x="474.8" y="228.0" width="3.96" height="3.96" fill="#8443dd" stroke="#6634ac" stroke-width="0.5"/>
<rect x="496.6" y="225.0" width="3.96" height="3.96" fill="#8443dd" stroke="#6634ac" stroke-width="0.5"/>
<rect x="562.2" y="201.2" width="3.96" height="3.96" fill="#8443dd" stroke="#6634ac" stroke-width="0.5"/>
<rect x="584.0" y="160.4" width="3.96" height="3.96" fill="#8443dd" stroke="#6634ac" stroke-width="0.5"/>
<rect x="452.9" y="223.1" width="3.96" height="3.96" fill="#108228" stroke="#0c651f" stroke-width="0.5"/>
<rect x="518.5" y="194.2" width="3.96" height="3.96" fill="#108228" stroke="#0c651f" stroke-width="0.5"/>
<rect x="540.3" y="159.4" width="3.96" height="3.96" fill="#108228" stroke="#0c651f" stroke-width="0.5"/>
<rect x="562.2" y="136.5" width="3.96" height="3.96" fill="#108228" stroke="#0c651f" stroke-width="0.5"/>
<rect x="584.0" y="130.5" width="3.96" height="3.96" fill="#108228" stroke="#0c651f" stroke-width="0.5"/>
<path d="M498.6 219.1 L500.7 215.4 L496.5 215.4Z" fill="#108228" stroke="#0c651f" stroke-width="0.5"/>
<path d="M520.5 188.3 L522.5 184.6 L518.4 184.6Z" fill="#108228" stroke="#0c651f" stroke-width="0.5"/>
<path d="M542.3 148.0 L544.4 144.3 L540.2 144.3Z" fill="#108228" stroke="#0c651f" stroke-width="0.5"/>
<circle cx="542.3" cy="211.1" r="2.00" fill="#108228" stroke="#0c651f" stroke-width="0.5"/>
<circle cx="564.1" cy="160.4" r="2.00" fill="#108228" stroke="#0c651f" stroke-width="0.5"/>
<circle cx="586.0" cy="141.5" r="2.00" fill="#108228" stroke="#0c651f" stroke-width="0.5"/>
<circle cx="586.0" cy="132.5" r="2.00" fill="#d3261f" stroke="#a5231c" stroke-width="0.5"/>
<circle cx="564.1" cy="132.5" r="2.00" fill="#d3261f" stroke="#a5231c" stroke-width="0.5"/>
<circle cx="542.3" cy="133.2" r="2.00" fill="#d3261f" stroke="#a5231c" stroke-width="0.5"/>
<circle cx="520.5" cy="139.5" r="2.00" fill="#d3261f" stroke="#a5231c" stroke-width="0.5"/>
<circle cx="498.6" cy="172.3" r="2.00" fill="#d3261f" stroke="#a5231c" stroke-width="0.5"/>
<circle cx="476.8" cy="210.1" r="2.00" fill="#d3261f" stroke="#a5231c" stroke-width="0.5"/>
<circle cx="454.9" cy="230.0" r="2.00" fill="#d3261f" stroke="#a5231c" stroke-width="0.5"/>
<circle cx="433.0" cy="232.0" r="2.00" fill="#d3261f" stroke="#a5231c" stroke-width="0.5"/>
<path d="M610.3 134.8 H621.8" stroke="#d0251d" stroke-width="1.1"/>
<circle cx="616.0" cy="134.8" r="1.80" fill="#d0251d" stroke="#a21c16" stroke-width="0.5"/>
<text x="628" y="137.9" font-size="8.65" text-anchor="start" font-weight="normal" fill="#000" class="k">BiIA-SG</text>
<path d="M610.3 147.3 H621.8" stroke="#108228" stroke-width="1.1"/>
<circle cx="616.0" cy="147.3" r="1.80" fill="#108228" stroke="#0c651f" stroke-width="0.5"/>
<text x="628" y="150.4" font-size="8.65" text-anchor="start" font-weight="normal" fill="#000" class="k">PGT128</text>
<path d="M610.3 159.9 H621.8" stroke="#108228" stroke-width="1.1"/>
<rect x="614.4" y="158.3" width="3.24" height="3.24" fill="#108228" stroke="#0c651f" stroke-width="0.5"/>
<text x="628" y="163.0" font-size="8.65" text-anchor="start" font-weight="normal" fill="#000" class="k">PGT121</text>
<path d="M610.3 172.4 H621.8" stroke="#108228" stroke-width="1.1"/>
<path d="M616.0 170.4 L618.1 174.1 L613.9 174.1Z" fill="#108228" stroke="#0c651f" stroke-width="0.5"/>
<text x="628" y="175.5" font-size="8.65" text-anchor="start" font-weight="normal" fill="#000" class="k">PGT126</text>
<path d="M610.3 185.0 H621.8" stroke="#108228" stroke-width="1.1"/>
<path d="M616.0 187.0 L618.1 183.3 L613.9 183.3Z" fill="#108228" stroke="#0c651f" stroke-width="0.5"/>
<text x="628" y="188.1" font-size="8.65" text-anchor="start" font-weight="normal" fill="#000" class="k">10-1074</text>
<path d="M610.3 197.5 H621.8" stroke="#8443dd" stroke-width="1.1"/>
<circle cx="616.0" cy="197.5" r="1.80" fill="#8443dd" stroke="#6634ac" stroke-width="0.5"/>
<text x="628" y="200.6" font-size="8.65" text-anchor="start" font-weight="normal" fill="#000" class="k">3BNC117</text>
<path d="M610.3 210.0 H621.8" stroke="#8443dd" stroke-width="1.1"/>
<rect x="614.4" y="208.4" width="3.24" height="3.24" fill="#8443dd" stroke="#6634ac" stroke-width="0.5"/>
<text x="628" y="213.1" font-size="8.65" text-anchor="start" font-weight="normal" fill="#000" class="k">N6</text>
<path d="M610.3 222.6 H621.8" stroke="#8443dd" stroke-width="1.1"/>
<path d="M616.0 220.5 L618.1 224.2 L613.9 224.2Z" fill="#8443dd" stroke="#6634ac" stroke-width="0.5"/>
<text x="628" y="225.7" font-size="8.65" text-anchor="start" font-weight="normal" fill="#000" class="k">VRC01</text>
<path d="M671.7 134.8 H683.2" stroke="#f4cf3a" stroke-width="1.1"/>
<circle cx="677.5" cy="134.8" r="1.80" fill="#f4cf3a" stroke="#bea12d" stroke-width="0.5"/>
<text x="689.8" y="137.9" font-size="8.65" text-anchor="start" font-weight="normal" fill="#000" class="k">PG9</text>
<path d="M671.7 147.3 H683.2" stroke="#f4cf3a" stroke-width="1.1"/>
<rect x="675.9" y="145.7" width="3.24" height="3.24" fill="#f4cf3a" stroke="#bea12d" stroke-width="0.5"/>
<text x="689.8" y="150.4" font-size="8.65" text-anchor="start" font-weight="normal" fill="#000" class="k">PG16</text>
<path d="M671.7 159.9 H683.2" stroke="#1b4a88" stroke-width="1.1"/>
<circle cx="677.5" cy="159.9" r="1.80" fill="#1b4a88" stroke="#15396a" stroke-width="0.5"/>
<text x="689.8" y="163.0" font-size="8.65" text-anchor="start" font-weight="normal" fill="#000" class="k">10E8v4</text>
<path d="M671.7 172.4 H683.2" stroke="#f09a2e" stroke-width="1.1"/>
<path d="M677.5 169.9 L680.0 174.4 L675.0 174.4Z" fill="#f09a2e" stroke="#bb7823" stroke-width="0.5"/>
<text x="689.8" y="175.5" font-size="8.65" text-anchor="start" font-weight="normal" fill="#000" class="k">Hu5A8</text>
<path d="M671.7 185.0 H683.2" stroke="#979797" stroke-width="1.1"/>
<path d="M677.5 187.0 L679.6 183.3 L675.4 183.3Z" fill="#979797" stroke="#757575" stroke-width="0.5"/>
<text x="689.8" y="188.1" font-size="8.65" text-anchor="start" font-weight="normal" fill="#000" class="k">HuIgG</text>
<text x="397" y="120.6" font-size="13.3" text-anchor="start" font-weight="bold" fill="#000" class="kb">B</text>
<text x="72" y="277.4" font-size="13.3" text-anchor="start" font-weight="bold" fill="#000" class="kb">C</text>
<g transform="translate(77.9 316.9)">
<path d="M-2.5 -1.5 L-0.2 -9.9 L1.5 -9.3 L-0.5 -0.9Z" fill="#f3f3f3" stroke="#a9a9a9" stroke-width="0.6"/>
<path d="M-1.2 -2.4 L0.6 -8.6" fill="none" stroke="#c9c9c9" stroke-width="0.5"/>
<path d="M1.2 1.7 H9.1 L8.5 13.7 L6.3 22.1 Q5.2 23.5 4.1 22.1 L1.9 13.7Z" fill="url(#gb)" stroke="#bdbdbd" stroke-width="0.4"/>
<path d="M2.0 14.1 H8.4 L6.3 22.1 Q5.2 23.5 4.1 22.1Z" fill="url(#go)"/>
<rect x="0" y="0" width="10" height="1.9" rx="0.5" fill="#d6d6d6" stroke="#ababab" stroke-width="0.5"/>
</g>
<g transform="translate(77.9 361.1)">
<path d="M-2.5 -1.5 L-0.2 -9.9 L1.5 -9.3 L-0.5 -0.9Z" fill="#f3f3f3" stroke="#a9a9a9" stroke-width="0.6"/>
<path d="M-1.2 -2.4 L0.6 -8.6" fill="none" stroke="#c9c9c9" stroke-width="0.5"/>
<path d="M1.2 1.7 H9.1 L8.5 13.7 L6.3 22.1 Q5.2 23.5 4.1 22.1 L1.9 13.7Z" fill="url(#gb)" stroke="#bdbdbd" stroke-width="0.4"/>
<path d="M2.0 14.1 H8.4 L6.3 22.1 Q5.2 23.5 4.1 22.1Z" fill="url(#gl)"/>
<rect x="0" y="0" width="10" height="1.9" rx="0.5" fill="#d6d6d6" stroke="#ababab" stroke-width="0.5"/>
</g>
<text x="94.6" y="306.5" font-size="10.3" text-anchor="start" font-weight="normal" fill="#1a1a1a" textLength="48.2" lengthAdjust="spacingAndGlyphs" class="k">Solution 1:</text>
<text x="94.6" y="319.3" font-size="10.3" text-anchor="start" font-weight="normal" fill="#1a1a1a" textLength="78.4" lengthAdjust="spacingAndGlyphs" class="k">BG505.SOSIP-647</text>
<text x="97.5" y="332.3" font-size="10.3" text-anchor="start" font-weight="normal" fill="#1a1a1a" textLength="34.4" lengthAdjust="spacingAndGlyphs" class="k">+bNAbs</text>
<text x="116.3" y="355.3" font-size="15" text-anchor="middle" font-weight="normal" fill="#000" class="k">+</text>
<text x="94.6" y="375.4" font-size="10.3" text-anchor="start" font-weight="normal" fill="#1a1a1a" textLength="48.2" lengthAdjust="spacingAndGlyphs" class="k">Solution 2:</text>
<text x="94.6" y="388.7" font-size="10.3" text-anchor="start" font-weight="normal" fill="#1a1a1a" textLength="76.6" lengthAdjust="spacingAndGlyphs" class="k">Hu-/CRM-PBMCs</text>
<text x="94.6" y="401.6" font-size="10.3" text-anchor="start" font-weight="normal" fill="#1a1a1a" textLength="34.4" lengthAdjust="spacingAndGlyphs" class="k">+bNAbs</text>
<path d="M181.0 328.3 H183.6 Q184.4 328.3 184.4 329.1 V381.5 Q184.4 382.3 183.6 382.3 H181.0" fill="none" stroke="#111" stroke-width="1.2"/>
<path d="M184.4 353.9 H237" fill="none" stroke="#3a3a3a" stroke-width="0.95"/>
<path d="M241.3 353.9 L235.3 350.6 L235.3 357.2Z" fill="#000"/>
<text x="192" y="345.1" font-size="8.8" text-anchor="start" font-weight="normal" fill="#1a1a1a" class="k">RT 30min</text>
<text x="192" y="366.3" font-size="8.8" text-anchor="start" font-weight="normal" fill="#1a1a1a" class="k">anti-CD3</text>
<text x="192" y="377.3" font-size="8.8" text-anchor="start" font-weight="normal" fill="#1a1a1a" class="k">anti-CD4</text>
<text x="192" y="387.8" font-size="8.8" text-anchor="start" font-weight="normal" fill="#1a1a1a" class="k">anti-CD8</text>
<text x="312.7" y="344.6" font-size="11" text-anchor="middle" font-weight="normal" fill="#1a1a1a" class="k">FACS analysis to determine</text>
<text x="312.7" y="357.7" font-size="11" text-anchor="middle" font-weight="normal" fill="#1a1a1a" class="k">frequencies of SOSIP-</text>
<text class="k" x="312.7" y="370.6" font-size="11" text-anchor="middle" fill="#1a1a1a">labelled CD4<tspan font-size="7" dy="-3.6">+</tspan><tspan dy="3.6"> T cells</tspan></text>
<text x="383.4" y="277.2" font-size="13.3" text-anchor="start" font-weight="bold" fill="#000" class="kb">D</text>
<path d="M430.0 276.5 V362.2 H506.2" fill="none" stroke="#000" stroke-width="1.2"/>
<path d="M427.2 362.2 H430.0" stroke="#000" stroke-width="1"/>
<text transform="translate(426.6 364.9) scale(0.9 1)" font-size="7.8" text-anchor="end" font-weight="normal" fill="#000" class="k">0</text>
<path d="M427.2 345.1 H430.0" stroke="#000" stroke-width="1"/>
<text transform="translate(426.6 347.8) scale(0.9 1)" font-size="7.8" text-anchor="end" font-weight="normal" fill="#000" class="k">20</text>
<path d="M427.2 327.9 H430.0" stroke="#000" stroke-width="1"/>
<text transform="translate(426.6 330.6) scale(0.9 1)" font-size="7.8" text-anchor="end" font-weight="normal" fill="#000" class="k">40</text>
<path d="M427.2 310.8 H430.0" stroke="#000" stroke-width="1"/>
<text transform="translate(426.6 313.5) scale(0.9 1)" font-size="7.8" text-anchor="end" font-weight="normal" fill="#000" class="k">60</text>
<path d="M427.2 293.6 H430.0" stroke="#000" stroke-width="1"/>
<text transform="translate(426.6 296.3) scale(0.9 1)" font-size="7.8" text-anchor="end" font-weight="normal" fill="#000" class="k">80</text>
<path d="M427.2 276.5 H430.0" stroke="#000" stroke-width="1"/>
<text transform="translate(426.6 279.2) scale(0.9 1)" font-size="7.8" text-anchor="end" font-weight="normal" fill="#000" class="k">100</text>
<rect x="434.4" y="276.8" width="16.8" height="85.4" fill="#fff" stroke="#000" stroke-width="1.05"/>
<path d="M442.8 362.2 V365.0" stroke="#000" stroke-width="0.9"/>
<rect x="459.6" y="358.9" width="17.4" height="3.3" fill="#fff" stroke="#000" stroke-width="1.05"/>
<path d="M468.3 362.2 V365.0" stroke="#000" stroke-width="0.9"/>
<rect x="484.6" y="285.9" width="17.4" height="76.3" fill="#fff" stroke="#000" stroke-width="1.05"/>
<path d="M493.3 362.2 V365.0" stroke="#000" stroke-width="0.9"/>
<text class="k" transform="translate(409.2 318.8) rotate(-90)" font-size="9.2" text-anchor="middle" fill="#000" textLength="90" lengthAdjust="spacingAndGlyphs">SOSIP<tspan font-size="6" dy="-3">+</tspan><tspan dy="3">/ CD</tspan><tspan font-size="6" dy="1.5">4</tspan><tspan font-size="6" dy="-4.5">+</tspan><tspan dy="3"> T cells(%)</tspan></text>
<rect x="389.5" y="367.4" width="117.5" height="23.3" fill="#f8cbad"/>
<rect x="389.5" y="390.7" width="117.5" height="25" fill="#cfe7ea"/>
<path d="M389.5 391.1 H507" stroke="#fff" stroke-opacity="0.45" stroke-width="0.9"/>
<text x="425.9" y="377.8" font-size="9.6" text-anchor="end" font-weight="normal" fill="#111" textLength="21.0" lengthAdjust="spacingAndGlyphs" class="k">SOSIP</text>
<text x="443.1" y="377.3" font-size="7.6" text-anchor="middle" font-weight="normal" fill="#111" class="kp">+</text>
<text x="467.8" y="377.3" font-size="7.6" text-anchor="middle" font-weight="normal" fill="#111" class="kp">+</text>
<text x="492.6" y="377.3" font-size="7.6" text-anchor="middle" font-weight="normal" fill="#111" class="kp">+</text>
<text x="425.9" y="388.4" font-size="9.6" text-anchor="end" font-weight="normal" fill="#111" textLength="23.3" lengthAdjust="spacingAndGlyphs" class="k">VRC01</text>
<text x="443.1" y="388.1" font-size="8.6" text-anchor="middle" font-weight="normal" fill="#111" class="kp">-</text>
<text x="467.8" y="387.9" font-size="7.6" text-anchor="middle" font-weight="normal" fill="#111" class="kp">+</text>
<text x="492.6" y="387.9" font-size="7.6" text-anchor="middle" font-weight="normal" fill="#111" class="kp">+</text>
<text x="425.9" y="399.3" font-size="9.6" text-anchor="end" font-weight="normal" fill="#111" textLength="34.5" lengthAdjust="spacingAndGlyphs" class="k">Hu-PBMC</text>
<text x="443.1" y="398.8" font-size="7.6" text-anchor="middle" font-weight="normal" fill="#111" class="kp">+</text>
<text x="467.8" y="398.8" font-size="7.6" text-anchor="middle" font-weight="normal" fill="#111" class="kp">+</text>
<text x="492.6" y="398.8" font-size="7.6" text-anchor="middle" font-weight="normal" fill="#111" class="kp">+</text>
<text x="425.9" y="410.2" font-size="9.6" text-anchor="end" font-weight="normal" fill="#111" textLength="26.2" lengthAdjust="spacingAndGlyphs" class="k">BiIA-SG</text>
<text x="443.1" y="409.9" font-size="8.6" text-anchor="middle" font-weight="normal" fill="#111" class="kp">-</text>
<text x="467.8" y="409.9" font-size="8.6" text-anchor="middle" font-weight="normal" fill="#111" class="kp">-</text>
<text x="492.6" y="409.7" font-size="7.6" text-anchor="middle" font-weight="normal" fill="#111" class="kp">+</text>
<text x="565.0" y="277.7" font-size="13.3" text-anchor="start" font-weight="bold" fill="#000" class="kb">E</text>
<path d="M606.8 276.0 V362.2 H730.2" fill="none" stroke="#000" stroke-width="1.2"/>
<path d="M604.0 362.2 H606.8" stroke="#000" stroke-width="1"/>
<text transform="translate(603.5 365.4) scale(0.84 1)" font-size="9.2" text-anchor="end" font-weight="normal" fill="#000" class="k">0</text>
<path d="M604.0 349.9 H606.8" stroke="#000" stroke-width="1"/>
<text transform="translate(603.5 353.1) scale(0.84 1)" font-size="9.2" text-anchor="end" font-weight="normal" fill="#000" class="k">10</text>
<path d="M604.0 337.6 H606.8" stroke="#000" stroke-width="1"/>
<text transform="translate(603.5 340.8) scale(0.84 1)" font-size="9.2" text-anchor="end" font-weight="normal" fill="#000" class="k">20</text>
<path d="M604.0 325.3 H606.8" stroke="#000" stroke-width="1"/>
<text transform="translate(603.5 328.5) scale(0.84 1)" font-size="9.2" text-anchor="end" font-weight="normal" fill="#000" class="k">30</text>
<path d="M604.0 312.9 H606.8" stroke="#000" stroke-width="1"/>
<text transform="translate(603.5 316.1) scale(0.84 1)" font-size="9.2" text-anchor="end" font-weight="normal" fill="#000" class="k">40</text>
<path d="M604.0 300.6 H606.8" stroke="#000" stroke-width="1"/>
<text transform="translate(603.5 303.8) scale(0.84 1)" font-size="9.2" text-anchor="end" font-weight="normal" fill="#000" class="k">50</text>
<path d="M604.0 288.3 H606.8" stroke="#000" stroke-width="1"/>
<text transform="translate(603.5 291.5) scale(0.84 1)" font-size="9.2" text-anchor="end" font-weight="normal" fill="#000" class="k">60</text>
<path d="M604.0 276.0 H606.8" stroke="#000" stroke-width="1"/>
<text transform="translate(603.5 279.2) scale(0.84 1)" font-size="9.2" text-anchor="end" font-weight="normal" fill="#000" class="k">70</text>
<rect x="611.6" y="284.6" width="16.0" height="77.6" fill="#fff" stroke="#000" stroke-width="1.05"/>
<path d="M619.6 362.2 V365.0" stroke="#000" stroke-width="0.9"/>
<rect x="635.6" y="359.0" width="16.8" height="3.2" fill="#fff" stroke="#000" stroke-width="1.05"/>
<path d="M644.0 362.2 V365.0" stroke="#000" stroke-width="0.9"/>
<rect x="660.2" y="311.5" width="16.8" height="50.7" fill="#fff" stroke="#000" stroke-width="1.05"/>
<path d="M668.6 362.2 V365.0" stroke="#000" stroke-width="0.9"/>
<rect x="685" y="357.8" width="16.8" height="4.4" fill="#fff" stroke="#000" stroke-width="1.05"/>
<path d="M693.4 362.2 V365.0" stroke="#000" stroke-width="0.9"/>
<rect x="709.6" y="356.7" width="16.8" height="5.5" fill="#fff" stroke="#000" stroke-width="1.05"/>
<path d="M718.0 362.2 V365.0" stroke="#000" stroke-width="0.9"/>
<text class="k" transform="translate(587.5 317.2) rotate(-90)" font-size="9.2" text-anchor="middle" fill="#000" textLength="90" lengthAdjust="spacingAndGlyphs">SOSIP<tspan font-size="6" dy="-3">+</tspan><tspan dy="3">/ CD4</tspan><tspan font-size="6" dy="-3">+</tspan><tspan dy="3"> T cells(%)</tspan></text>
<rect x="555.4" y="366.7" width="172.2" height="32" fill="#f8cbad"/>
<rect x="555.4" y="398.7" width="172.2" height="46" fill="#cfe7ea"/>
<path d="M555.4 399.1 H727.6" stroke="#fff" stroke-opacity="0.45" stroke-width="0.9"/>
<text x="602.1" y="376" font-size="9.6" text-anchor="end" font-weight="normal" fill="#111" textLength="21.1" lengthAdjust="spacingAndGlyphs" class="k">SOSIP</text>
<text x="618.8" y="375.5" font-size="7.6" text-anchor="middle" font-weight="normal" fill="#111" class="kp">+</text>
<text x="643.6" y="375.5" font-size="7.6" text-anchor="middle" font-weight="normal" fill="#111" class="kp">+</text>
<text x="668.3" y="375.5" font-size="7.6" text-anchor="middle" font-weight="normal" fill="#111" class="kp">+</text>
<text x="693" y="375.5" font-size="7.6" text-anchor="middle" font-weight="normal" fill="#111" class="kp">+</text>
<text x="717.6" y="375.5" font-size="7.6" text-anchor="middle" font-weight="normal" fill="#111" class="kp">+</text>
<text x="602.1" y="386.9" font-size="9.6" text-anchor="end" font-weight="normal" fill="#111" textLength="23.6" lengthAdjust="spacingAndGlyphs" class="k">VRC01</text>
<text x="618.8" y="386.6" font-size="8.6" text-anchor="middle" font-weight="normal" fill="#111" class="kp">-</text>
<text x="643.6" y="386.4" font-size="7.6" text-anchor="middle" font-weight="normal" fill="#111" class="kp">+</text>
<text x="668.3" y="386.4" font-size="7.6" text-anchor="middle" font-weight="normal" fill="#111" class="kp">+</text>
<text x="693" y="386.4" font-size="7.6" text-anchor="middle" font-weight="normal" fill="#111" class="kp">+</text>
<text x="717.6" y="386.6" font-size="8.6" text-anchor="middle" font-weight="normal" fill="#111" class="kp">-</text>
<text x="602.1" y="397.5" font-size="9.6" text-anchor="end" font-weight="normal" fill="#111" textLength="28" lengthAdjust="spacingAndGlyphs" class="k">PGT128</text>
<text x="618.8" y="397.2" font-size="8.6" text-anchor="middle" font-weight="normal" fill="#111" class="kp">-</text>
<text x="643.6" y="397.2" font-size="8.6" text-anchor="middle" font-weight="normal" fill="#111" class="kp">-</text>
<text x="668.3" y="397.2" font-size="8.6" text-anchor="middle" font-weight="normal" fill="#111" class="kp">-</text>
<text x="693" y="397.2" font-size="8.6" text-anchor="middle" font-weight="normal" fill="#111" class="kp">-</text>
<text x="717.6" y="397.0" font-size="7.6" text-anchor="middle" font-weight="normal" fill="#111" class="kp">+</text>
<text x="602.1" y="408.5" font-size="9.6" text-anchor="end" font-weight="normal" fill="#111" textLength="42.1" lengthAdjust="spacingAndGlyphs" class="k">CRM-PBMC</text>
<text x="618.8" y="408.0" font-size="7.6" text-anchor="middle" font-weight="normal" fill="#111" class="kp">+</text>
<text x="643.6" y="408.0" font-size="7.6" text-anchor="middle" font-weight="normal" fill="#111" class="kp">+</text>
<text x="668.3" y="408.0" font-size="7.6" text-anchor="middle" font-weight="normal" fill="#111" class="kp">+</text>
<text x="693" y="408.0" font-size="7.6" text-anchor="middle" font-weight="normal" fill="#111" class="kp">+</text>
<text x="717.6" y="408.0" font-size="7.6" text-anchor="middle" font-weight="normal" fill="#111" class="kp">+</text>
<text x="602.1" y="419.1" font-size="9.6" text-anchor="end" font-weight="normal" fill="#111" textLength="26.6" lengthAdjust="spacingAndGlyphs" class="k">BiIA-SG</text>
<text x="618.8" y="418.8" font-size="8.6" text-anchor="middle" font-weight="normal" fill="#111" class="kp">-</text>
<text x="643.6" y="418.8" font-size="8.6" text-anchor="middle" font-weight="normal" fill="#111" class="kp">-</text>
<text x="668.3" y="418.6" font-size="7.6" text-anchor="middle" font-weight="normal" fill="#111" class="kp">+</text>
<text x="693" y="418.8" font-size="8.6" text-anchor="middle" font-weight="normal" fill="#111" class="kp">-</text>
<text x="717.6" y="418.8" font-size="8.6" text-anchor="middle" font-weight="normal" fill="#111" class="kp">-</text>
<text x="602.1" y="429.8" font-size="9.6" text-anchor="end" font-weight="normal" fill="#111" textLength="28" lengthAdjust="spacingAndGlyphs" class="k">PGT128</text>
<text x="618.8" y="429.5" font-size="8.6" text-anchor="middle" font-weight="normal" fill="#111" class="kp">-</text>
<text x="643.6" y="429.5" font-size="8.6" text-anchor="middle" font-weight="normal" fill="#111" class="kp">-</text>
<text x="668.3" y="429.5" font-size="8.6" text-anchor="middle" font-weight="normal" fill="#111" class="kp">-</text>
<text x="693" y="429.3" font-size="7.6" text-anchor="middle" font-weight="normal" fill="#111" class="kp">+</text>
<text x="717.6" y="429.5" font-size="8.6" text-anchor="middle" font-weight="normal" fill="#111" class="kp">-</text>
<text x="602.1" y="440.5" font-size="9.6" text-anchor="end" font-weight="normal" fill="#111" textLength="24.2" lengthAdjust="spacingAndGlyphs" class="k">Hu5A8</text>
<text x="618.8" y="440.2" font-size="8.6" text-anchor="middle" font-weight="normal" fill="#111" class="kp">-</text>
<text x="643.6" y="440.2" font-size="8.6" text-anchor="middle" font-weight="normal" fill="#111" class="kp">-</text>
<text x="668.3" y="440.2" font-size="8.6" text-anchor="middle" font-weight="normal" fill="#111" class="kp">-</text>
<text x="693" y="440.2" font-size="8.6" text-anchor="middle" font-weight="normal" fill="#111" class="kp">-</text>
<text x="717.6" y="440.0" font-size="7.6" text-anchor="middle" font-weight="normal" fill="#111" class="kp">+</text>
</svg>
<div class="ttl">Figure 1.<span style="letter-spacing:-0.4px">&nbsp; </span>Characteristics of BiIA-SG <i>in vitro</i></div>
<div class="cap" style="top:481.8px;width:642.8px">(A and B) Neutralization efficacy of BiIA-SG compared with its parental bNAbs (A) and a panel of bNAbs (B) against SHIV<sub>SF162P3CN</sub>.</div>
<div class="cap" style="top:496.8px">(C–E) Binding of soluble gp120 and CD4 molecules on CD4<sup>+</sup> T cells derived from human (Hu) or Chinese rhesus macaques (CRM) by BiIA-SG. AF647-labeled</div>
<div class="cap" style="top:511.7px">BG505.SOSIP trimer was first incubated with VRC01, PGT128, or left untreated, followed by mixing with Hu-PBMCs or CRM-PBMCs that were pretreated with</div>
<div class="cap" style="top:526.6px">BiIA-SG, PGT128, Hu5A8, or left untreated. PBMCs were then stained with anti-CD3, anti-CD4, and anti-CD8 antibodies for fluorescence-activated cell sorting</div>
<div class="cap" style="top:541.5px;width:679.8px">(FACS) analysis. Frequencies of SOSIP<sup>+</sup>/CD4<sup>+</sup> T cells (%) in Hu-PBMCs (D) and CRM-PBMCs (E) of different treatment groups are shown.</div>
</div>
</body>
</html>
